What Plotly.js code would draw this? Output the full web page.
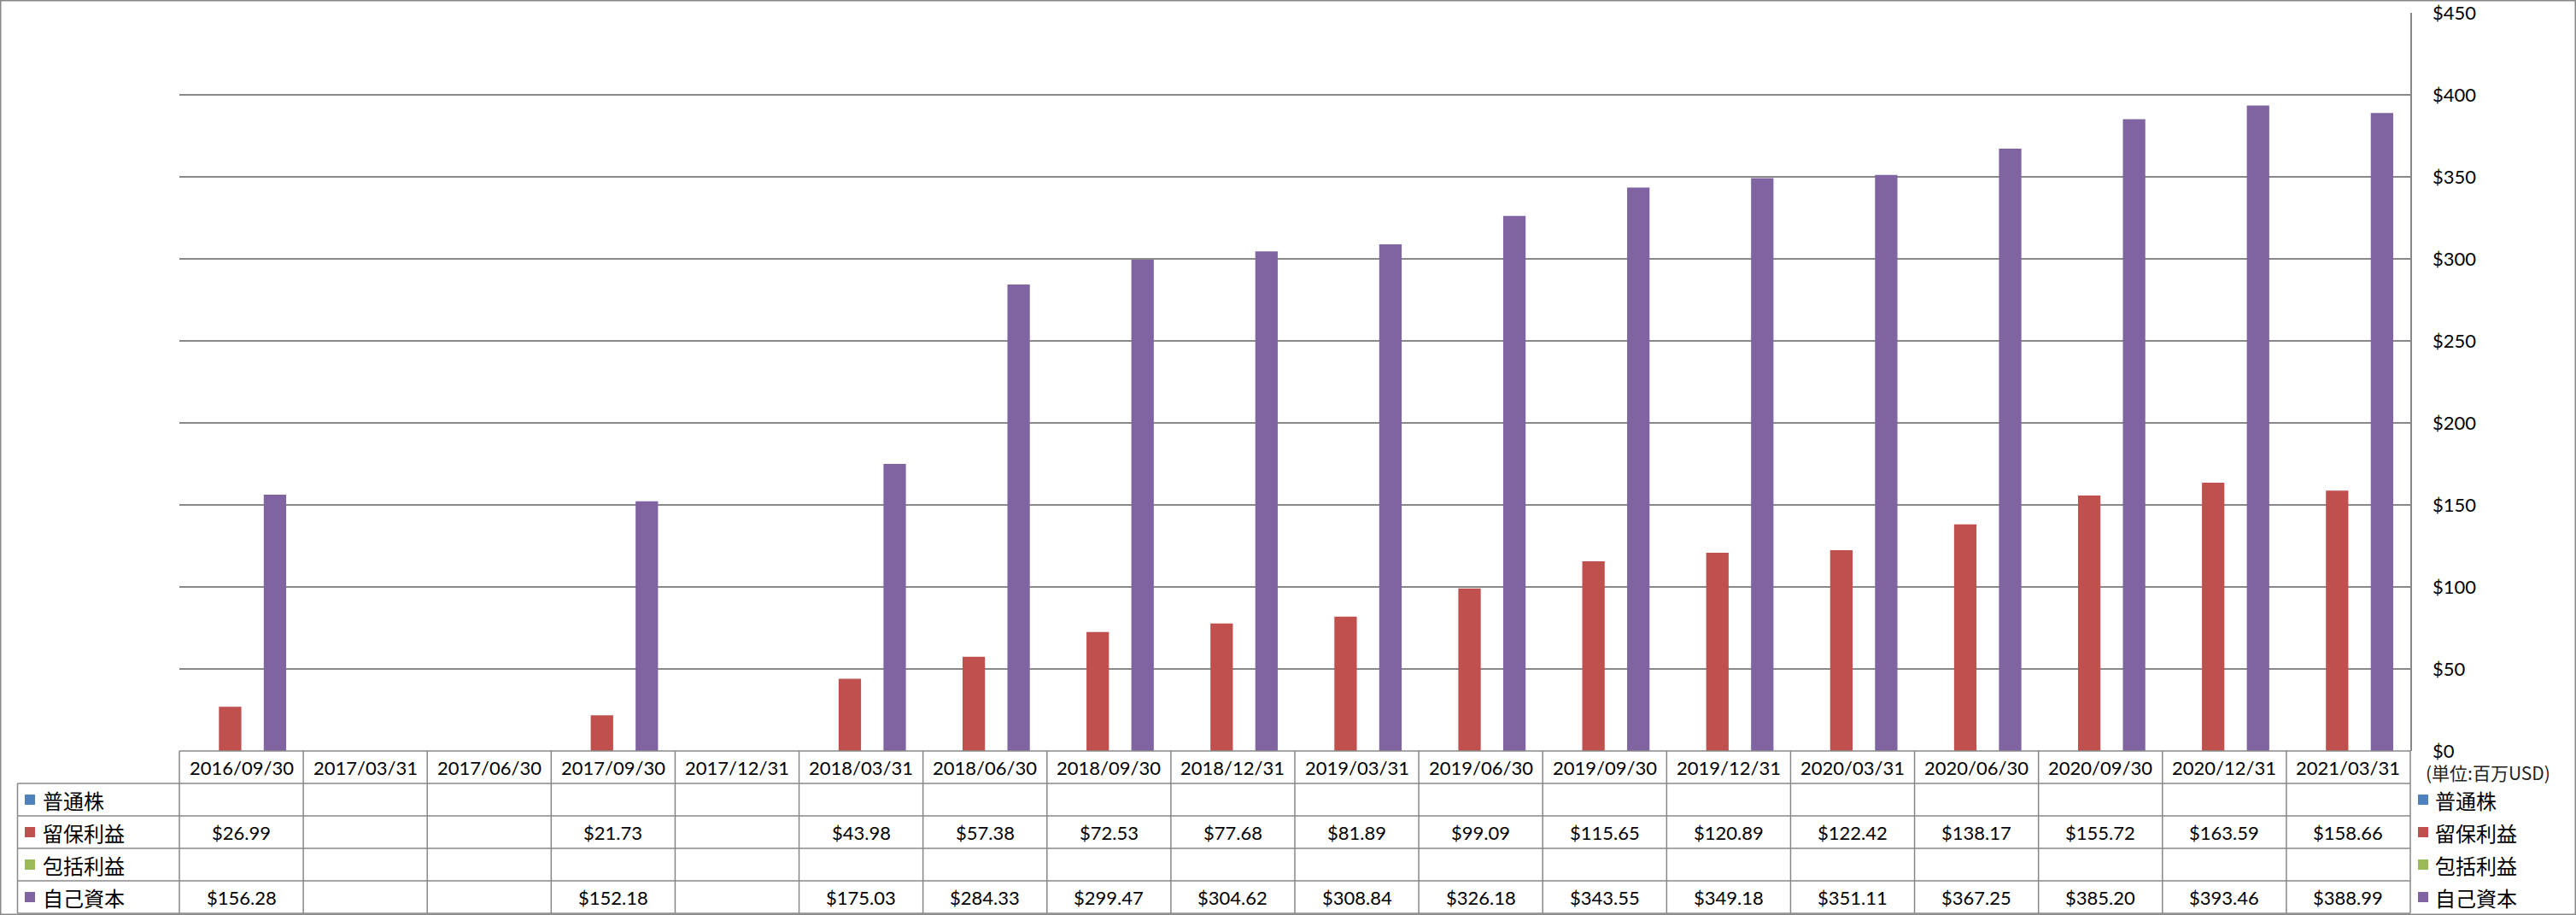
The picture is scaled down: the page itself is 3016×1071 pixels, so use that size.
<!DOCTYPE html>
<html>
<head>
<meta charset="utf-8">
<script src="https://cdn.plot.ly/plotly-3.0.1.min.js"></script>
<style>
html,body{margin:0;padding:0;background:#fff;}
#chart{width:3016px;height:1071px;}
</style>
</head>
<body>
<div id="chart"></div>
<script>
// ---- data ----
var categories = ["2016/09/30","2017/03/31","2017/06/30","2017/09/30","2017/12/31","2018/03/31","2018/06/30","2018/09/30","2018/12/31","2019/03/31","2019/06/30","2019/09/30","2019/12/31","2020/03/31","2020/06/30","2020/09/30","2020/12/31","2021/03/31"];
var seriesNames = ["普通株","留保利益","包括利益","自己資本"];
var commonStock = [null,null,null,null,null,null,null,null,null,null,null,null,null,null,null,null,null,null];
var retainedEarnings = [26.99,null,null,21.73,null,43.98,57.38,72.53,77.68,81.89,99.09,115.65,120.89,122.42,138.17,155.72,163.59,158.66];
var comprehensiveIncome = [null,null,null,null,null,null,null,null,null,null,null,null,null,null,null,null,null,null];
var equity = [156.28,null,null,152.18,null,175.03,284.33,299.47,304.62,308.84,326.18,343.55,349.18,351.11,367.25,385.20,393.46,388.99];
var yTickVals = [0,50,100,150,200,250,300,350,400,450];
var unitLabel = "(単位:百万USD)";

// ---- styling / layout ----
var colors = ["#4F81BD","#C0504D","#9BBB59","#8064A2"];
var seriesData = [commonStock, retainedEarnings, comprehensiveIncome, equity];
var W = 3016, H = 1071;
var L = 210, R = 2822, T = 15, B = 879;
var rowH = 38;
var gridColor = "#888888";
var numFont = "Lato, 'Noto Sans', sans-serif";
var jpFont = "'Noto Sans CJK JP', 'Noto Sans', sans-serif";

function px2x(px){ return (px - L) / (R - L); }
function px2y(py){ return (B - py) / (B - T); }

var traces = seriesData.map(function(arr, k){
  return {
    type: "bar",
    name: seriesNames[k],
    x: categories,
    y: arr,
    marker: {color: colors[k], line: {width: 0}},
    hoverinfo: "skip"
  };
});

var shapes = [];
var annotations = [];
var lineStyle = {color: gridColor, width: 1.5};

// horizontal table lines
shapes.push({type:"line", xref:"paper", yref:"paper", x0:px2x(L), x1:px2x(R), y0:px2y(B), y1:px2y(B), line:lineStyle});
for (var r = 1; r <= 5; r++) {
  var yy = B + r * rowH;
  shapes.push({type:"line", xref:"paper", yref:"paper", x0:px2x(20.5), x1:px2x(R), y0:px2y(yy), y1:px2y(yy), line:lineStyle});
}
// vertical table lines
var n = categories.length;
for (var i = 0; i <= n; i++) {
  var xp = i / n;
  shapes.push({type:"line", xref:"paper", yref:"paper", x0:xp, x1:xp, y0:px2y(B), y1:px2y(B + 5*rowH), line:lineStyle});
}
shapes.push({type:"line", xref:"paper", yref:"paper", x0:px2x(20.5), x1:px2x(20.5), y0:px2y(B + rowH), y1:px2y(B + 5*rowH), line:lineStyle});
// outer border
shapes.push({type:"rect", xref:"paper", yref:"paper", x0:px2x(0.75), x1:px2x(W-0.75), y0:px2y(0.75), y1:px2y(H-0.75), line:{color:gridColor, width:1.5}, fillcolor:"rgba(0,0,0,0)"});

// header row: dates
categories.forEach(function(c, i){
  annotations.push({xref:"x", yref:"paper", x:c, y:px2y(B + rowH/2), text:c, showarrow:false, xanchor:"center", yanchor:"middle", font:{family:numFont, size:22, color:"#000"}});
});
// data rows
seriesData.forEach(function(arr, k){
  var cy = px2y(B + rowH*(k+1) + rowH/2);
  arr.forEach(function(v, i){
    if (v === null) return;
    annotations.push({xref:"x", yref:"paper", x:categories[i], y:cy, text:"$" + v.toFixed(2), showarrow:false, xanchor:"center", yanchor:"middle", font:{family:numFont, size:22, color:"#000"}});
  });
  // left legend
  shapes.push({type:"rect", xref:"paper", yref:"paper", x0:px2x(29), x1:px2x(41), y0:px2y(B + rowH*(k+1) + rowH/2 - 6), y1:px2y(B + rowH*(k+1) + rowH/2 + 6), fillcolor:colors[k], line:{width:0}});
  annotations.push({xref:"paper", yref:"paper", x:px2x(48), y:cy, text:seriesNames[k], showarrow:false, xanchor:"left", yanchor:"middle", font:{family:jpFont, size:24, color:"#000"}});
  // right legend
  shapes.push({type:"rect", xref:"paper", yref:"paper", x0:px2x(2831), x1:px2x(2843), y0:px2y(B + rowH*(k+1) + rowH/2 - 6), y1:px2y(B + rowH*(k+1) + rowH/2 + 6), fillcolor:colors[k], line:{width:0}});
  annotations.push({xref:"paper", yref:"paper", x:px2x(2849), y:cy, text:seriesNames[k], showarrow:false, xanchor:"left", yanchor:"middle", font:{family:jpFont, size:24, color:"#000"}});
});
// unit label
annotations.push({xref:"paper", yref:"paper", x:px2x(2838), y:px2y(904), text:unitLabel, showarrow:false, xanchor:"left", yanchor:"middle", font:{family:jpFont, size:21, color:"#222"}});

var layout = {
  width: W, height: H, autosize: false,
  margin: {l: L, r: W - R, t: T, b: H - B, pad: 0},
  paper_bgcolor: "#fff", plot_bgcolor: "#fff",
  barmode: "group", bargap: 0.276, bargroupgap: 0,
  showlegend: false,
  xaxis: {type:"category", range:[-0.5, n-0.5], showticklabels:false, ticks:"", showgrid:false, zeroline:false, showline:false, fixedrange:true},
  yaxis: {side:"right", range:[0,450], tickvals:yTickVals, ticktext:yTickVals.map(function(v){return "$"+v;}),
          showgrid:true, gridcolor:gridColor, gridwidth:1.5, zeroline:false,
          showline:true, linecolor:gridColor, linewidth:1.5,
          ticks:"outside", ticklen:20, tickcolor:"rgba(0,0,0,0)",
          tickfont:{family:numFont, size:22, color:"#000"}, fixedrange:true},
  shapes: shapes,
  annotations: annotations
};

Plotly.newPlot("chart", traces, layout, {staticPlot:true, displayModeBar:false});
</script>
</body>
</html>
